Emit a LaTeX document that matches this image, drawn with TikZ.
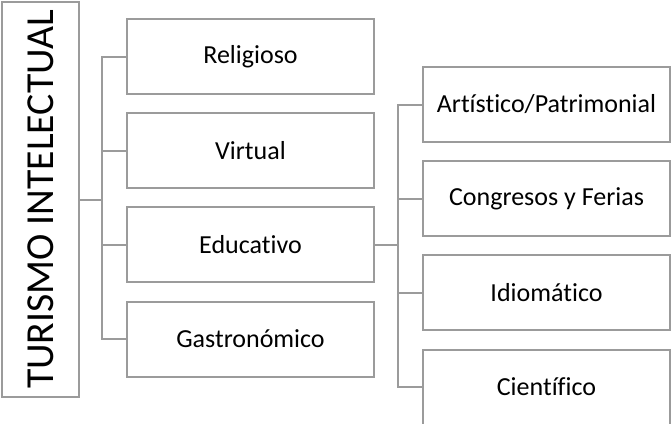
\documentclass[tikz,border=0pt]{standalone}
\usepackage{fontspec}
\setmainfont{Carlito}[Ligatures=NoCommon]
\usepackage{tikz}
\usetikzlibrary{positioning}
\usetikzlibrary{calc}
\definecolor{linegray}{RGB}{155,155,155}
\tikzset{
    tree/.style={x=1pt,y=-1pt,line width=2pt,draw=linegray,
                     node distance=94.2pt},
    cat/.style={rectangle,draw=linegray,line width=2pt,inner sep=0pt,
                     minimum width=247pt,minimum height=75pt,
                     font=\fontsize{26}{30}\selectfont},
    titlebox/.style={rectangle,draw=linegray,line width=2pt,inner sep=0pt,
                     rotate=90,minimum width=395pt,minimum height=77pt,
                     font=\fontsize{39.7}{44}\selectfont},
    link/.style={draw=linegray,line width=2pt},
    }
\begin{document}
\begin{tikzpicture}[tree]
            \useasboundingbox (0,0) rectangle (671,423);
            \node[titlebox] (t) at (40.5,199.5) {TURISMO INTELECTUAL};

            \node[cat] (c1) at (250.5,56.5) {Religioso};
            \node[cat] (c2) [below of=c1] {Virtual};
            \node[cat] (c3) [below of=c2] {Educativo};
            \node[cat] (c4) [below of=c3] {Gastronómico};

            \node[cat] (s1) at (546.5,104.5) {Artístico/Patrimonial};
            \node[cat] (s2) [below of=s1] {Congresos y Ferias};
            \node[cat] (s3) [below of=s2] {Idiomático};
            \node[cat] (s4) [below of=s3] {Científico};

            \coordinate (lbus) at ($(c1.west)+(-24,0)$);
            \coordinate (rbus) at ($(s1.west)+(-24,0)$);

            \draw[link] (c1.west) -- (lbus) |- (c4.west);
            \draw[link] (c2.west) -- (c2.west -| lbus);
            \draw[link] (c3.west) -- (c3.west -| lbus);
            \draw[link] (t.south) -- (t.south -| lbus);

            \draw[link] (s1.west) -- (rbus) |- (s4.west);
            \draw[link] (s2.west) -- (s2.west -| rbus);
            \draw[link] (s3.west) -- (s3.west -| rbus);
            \draw[link] (c3.east) -- (c3.east -| rbus);
        \end{tikzpicture}
\end{document}
